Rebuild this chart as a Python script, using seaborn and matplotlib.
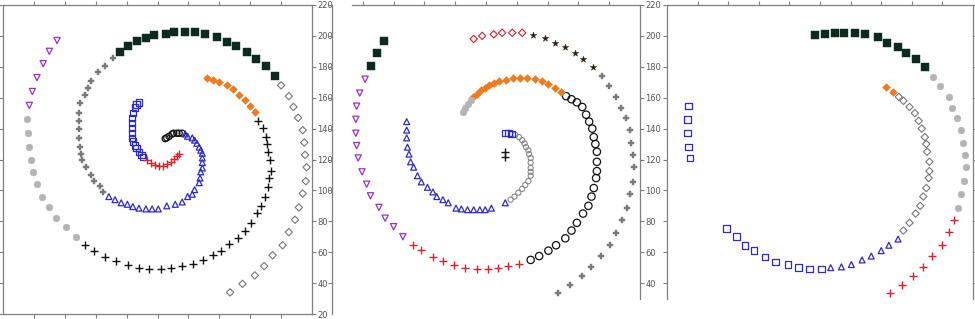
import matplotlib
matplotlib.use("Agg")
import matplotlib.pyplot as plt
import seaborn as sns
import pandas as pd

# ---- panel 1 ----
p1_violet_x = [35, 30, 26, 22, 19, 17]
p1_violet_y = [197, 190, 182, 173, 164, 155]
p1_silver_x = [15.5, 16, 17, 18, 19.5, 22, 25, 30, 34, 41, 47]
p1_silver_y = [146, 137, 128, 120, 112, 104, 96, 89, 82, 76, 70]
p1_greyplus_x = [71, 66, 61.5, 57, 55, 53, 50, 49, 49, 49, 49, 50, 50.5, 51, 54, 57, 59, 63, 65]
p1_greyplus_y = [186, 180.5, 176.5, 171, 166, 162, 156.5, 150, 145, 140, 134, 128, 123.5, 119.5, 115, 110, 106, 103, 99]
p1_square_x = [76, 81, 87, 92.5, 98, 105.5, 111, 118, 124, 131, 138.5, 145, 151, 158, 164, 170, 176]
p1_square_y = [189.5, 193.5, 196.5, 198.5, 200.5, 201, 202.5, 202.5, 202.5, 201, 199, 196, 193.5, 189.5, 185, 180.5, 174]
p1_diamond_x = [180, 185, 188, 191, 194, 195, 195.5, 196.5, 196, 194, 191.5, 189, 185, 181, 174.5, 169, 163, 155, 147]
p1_diamond_y = [168, 161, 154, 147, 139, 131, 123, 115, 106, 98, 89, 81, 73, 64.5, 58, 51, 45, 39.5, 34]
p1_plus_x = [165, 168, 170, 171, 171.5, 173, 173.5, 172, 171.5, 169.5, 167, 164.5, 160.5, 156.5, 152, 146,
             141, 136, 129.5, 123, 116, 108.5, 102, 94.5, 88, 81, 73, 66, 59, 53]
p1_plus_y = [145, 140.5, 134.5, 130, 125, 119.5, 112.5, 108, 102, 96, 90, 85.5, 79, 74, 69, 65.5,
             61, 58, 55, 52.5, 51, 50, 49, 49, 50, 52, 54.5, 57, 61, 64.5]
p1_orange_x = [132, 136, 140, 145, 149, 152.5, 156.5, 160, 163]
p1_orange_y = [173, 171.5, 170, 168, 165.5, 162, 158.5, 154.5, 151]
p1_green_x = [91, 94, 97, 100, 103.5, 107, 110, 114.5, 119, 123, 127]
p1_green_y = [160.5, 163.5, 166.5, 167.5, 169.5, 170, 171, 172, 173, 173.5, 173.5]
p1_bsquare_x = [88, 86.5, 85.5, 84, 83.5, 83.5, 83.5, 83.5, 83.5, 84, 85.5, 86.5, 88, 89.5, 90.5]
p1_bsquare_y = [157, 155.5, 153.5, 150, 147, 143.5, 140.5, 137, 134, 131.5, 129, 127.5, 125, 123, 121.5]
p1_red_x = [93, 96, 98.5, 101, 103.5, 106, 108.5, 110.5, 112.5, 114]
p1_red_y = [119.5, 118, 116.5, 116, 116, 117, 118.5, 120.5, 122.5, 123.5]
p1_ring_x = [105, 106, 107.5, 109.5, 110.5, 112.5, 114, 116]
p1_ring_y = [133.5, 134, 135, 136.5, 137, 137, 137, 137]
p1_tri_x = [118, 119.5, 122.5, 124, 125.5, 127, 128, 129, 129, 129, 129, 128, 127.5, 127, 124, 122.5, 119.5,
            116, 111.5, 106, 100.5, 96.5, 92.5, 88, 84, 80.5, 76.5, 72.5, 68.5]
p1_tri_y = [136.5, 135, 134, 132.5, 130.5, 128, 126, 124, 121, 118, 114.5, 112, 108, 105, 100.5, 97.5, 96,
            92.5, 91, 90, 88, 88, 88, 88.5, 89.5, 91, 92, 94, 96]

# ---- panel 2 ----
p2_square_x = [34, 29, 25]
p2_square_y = [196.5, 189, 180.5]
p2_violet_x = [21.5, 18, 16, 15.5, 15.5, 16, 17, 19.5, 22.5, 25, 30.5, 34.5, 40, 46]
p2_violet_y = [172, 163, 154.5, 146, 137, 129, 121, 112, 104, 96.5, 89, 82, 76.5, 70]
p2_red_x = [52.5, 58, 65.5, 72, 79.5, 86.5, 94, 101.5, 108, 114.5, 121.5]
p2_red_y = [64.5, 61.5, 57, 54.5, 52, 50, 49, 49, 50, 51, 52.5]
p2_ring_x = [129, 134.5, 140.5, 145.5, 151.5, 155.5, 159, 163, 166.5, 168.5, 170, 171.5, 172, 172, 172, 171,
             170, 169, 167, 165, 162.5, 159, 155.5, 152]
p2_ring_y = [55, 57.5, 61, 64.5, 69, 74, 79, 85, 90, 96, 101.5, 108, 112.5, 118.5, 125, 130,
             134.5, 140, 144.5, 149, 154, 157, 159, 161]
p2_orange_x = [148.5, 145, 140, 136.5, 132, 126.5, 122, 117.5, 113, 108.5, 105, 102, 99.5, 97, 94, 91.5]
p2_orange_y = [164, 166.5, 169, 170.5, 172, 173, 173, 172.5, 171.5, 170.5, 169.5, 168, 166.5, 165, 162.5, 160.5]
p2_silver_x = [90, 88.5, 86.5, 85]
p2_silver_y = [158.5, 156, 153.5, 151]
p2_green_x = [49, 50, 52.5, 55, 58, 61.5, 65.5, 70, 75, 80.5, 85.5]
p2_green_y = [150, 156, 160.5, 166, 171, 176, 180.5, 185, 189, 193, 196]
p2_rdiamond_x = [92, 97.5, 105, 110.5, 117, 123.5]
p2_rdiamond_y = [198, 200, 201, 202, 202, 202]
p2_star_x = [130.5, 138, 145, 151.5, 157.5, 163, 169.5]
p2_star_y = [200.5, 198.5, 195.5, 193, 189, 185, 180]
p2_greyplus_x = [175.5, 180, 184.5, 187.5, 191, 193.5, 194, 195.5, 196, 195.5, 193.5, 191.5, 188.5, 184.5,
                 180.5, 174.5, 168.5, 162.5, 154.5, 147]
p2_greyplus_y = [174, 167.5, 160.5, 153.5, 147, 139, 130.5, 123, 115, 105.5, 97.5, 88.5, 81, 72.5,
                 64.5, 57.5, 50.5, 44.5, 39, 33.5]
p2_tri_x = [48.5, 48.5, 48.5, 49, 50, 51, 53, 55.5, 58, 62, 65.5, 68, 72, 75.5, 80.5, 84, 88, 92, 96, 99.5,
            103.5, 112.5]
p2_tri_y = [144.5, 139, 134, 128, 123.5, 118.5, 115, 109.5, 105.5, 102, 99, 96, 94, 92, 88.5, 88, 87.5,
            87.5, 87.5, 87.5, 88.5, 92]
p2_gring_x = [119, 121.5, 123.5, 125, 126, 127.5, 128, 129, 129, 129, 129, 129, 127.5, 125.5, 123.5, 121,
              118.5, 116]
p2_gring_y = [136, 134.5, 132.5, 130.5, 128, 126, 123.5, 121, 118, 114.5, 112, 109.5, 106, 103.5, 101, 98.5,
              96, 94]
p2_bsquare_x = [112.5, 114.5, 116.5]
p2_bsquare_y = [137, 137, 136.5]
p2_plus_x = [112.5, 112.5]
p2_plus_y = [125, 121.5]

# ---- panel 3 ----
p3_square_x = [97, 103.5, 110, 116, 123, 129.5, 138, 143.5, 151, 156.5, 162.5, 168.5]
p3_square_y = [200.5, 201, 202, 202, 202, 201, 199, 195.5, 193, 189, 185, 180]
p3_silver_x = [174, 178.5, 184, 186.5, 189.5, 192, 193.5, 195, 195.5, 194, 192, 190.5]
p3_silver_y = [173.5, 167.5, 160.5, 153.5, 147, 139, 130.5, 123, 115, 106, 97.5, 88.5]
p3_red_x = [187.5, 184, 179.5, 173.5, 167.5, 161, 153.5, 145.5]
p3_red_y = [81, 73, 64.5, 57.5, 50.5, 44.5, 39, 33.5]
p3_diamond_x = [151.5, 154.5, 158.5, 162, 164.5, 166.5, 168.5, 169.5, 170, 171.5, 171.5, 171, 169.5, 167.5,
                165.5, 162.5, 158.5, 154.5]
p3_diamond_y = [160.5, 158, 154, 150, 145, 140, 134.5, 130, 125, 118.5, 112.5, 108, 101.5, 96, 90, 85, 79, 74]
p3_tri_x = [151, 145, 140, 133.5, 127.5, 120.5, 114, 107]
p3_tri_y = [68.5, 64.5, 61, 57.5, 55, 52, 50.5, 50]
p3_bsquare_x = [101, 93, 86, 79, 71, 64, 57, 51, 45.5, 39]
p3_bsquare_y = [49, 49, 50, 52, 53.5, 57, 61, 64.5, 70, 75.5]
p3_lsquare_x = [14, 13.5, 13.5, 14, 15]
p3_lsquare_y = [154.5, 146, 137, 128, 121]
p3_green_x = [139]
p3_green_y = [169]
p3_orange_x = [143, 147.5]
p3_orange_y = [167, 163.5]

y_ticks = [20, 40, 60, 80, 100, 120, 140, 160, 180, 200, 220]
x_ticks = [20, 40, 60, 80, 100, 120, 140, 160, 180]

# marker styles: marker, colour, filled, size, linewidth
styles = {
    "violet": ("v", "#9b30d0", False, 20, 0.9),
    "silver": ("o", "#b4b4b4", True, 24, 0),
    "greyplus": ("P", "#7a7a7a", True, 24, 0),
    "square": ("s", "#0c2a1e", True, 26, 0),
    "diamond": ("D", "#777777", False, 14, 0.8),
    "plus": ("+", "#111111", False, 34, 1.0),
    "orange": ("D", "#f07a1c", True, 16, 0),
    "green": ((8, 2, 0), "#1fa03c", False, 30, 1.0),
    "bsquare": ("s", "#2a2ad0", False, 22, 0.9),
    "red": ("+", "#e0202a", False, 30, 1.0),
    "ring": ("o", "#111111", False, 20, 0.9),
    "bigring": ("o", "#111111", False, 28, 0.9),
    "tri": ("^", "#2a2ad0", False, 18, 0.9),
    "rdiamond": ("D", "#e0202a", False, 14, 0.8),
    "star": ("*", "#2a1e10", True, 24, 0),
    "gring": ("o", "#888888", False, 14, 0.8),
}

panels = [
    [(p1_violet_x, p1_violet_y, "violet"), (p1_silver_x, p1_silver_y, "silver"),
     (p1_greyplus_x, p1_greyplus_y, "greyplus"), (p1_square_x, p1_square_y, "square"),
     (p1_diamond_x, p1_diamond_y, "diamond"), (p1_plus_x, p1_plus_y, "plus"),
     (p1_orange_x, p1_orange_y, "orange"), (p1_green_x, p1_green_y, "green"),
     (p1_bsquare_x, p1_bsquare_y, "bsquare"), (p1_red_x, p1_red_y, "red"),
     (p1_ring_x, p1_ring_y, "ring"), (p1_tri_x, p1_tri_y, "tri")],
    [(p2_square_x, p2_square_y, "square"), (p2_violet_x, p2_violet_y, "violet"),
     (p2_red_x, p2_red_y, "red"), (p2_ring_x, p2_ring_y, "bigring"),
     (p2_orange_x, p2_orange_y, "orange"), (p2_silver_x, p2_silver_y, "silver"),
     (p2_green_x, p2_green_y, "green"), (p2_rdiamond_x, p2_rdiamond_y, "rdiamond"),
     (p2_star_x, p2_star_y, "star"), (p2_greyplus_x, p2_greyplus_y, "greyplus"),
     (p2_tri_x, p2_tri_y, "tri"), (p2_gring_x, p2_gring_y, "gring"),
     (p2_bsquare_x, p2_bsquare_y, "bsquare"), (p2_plus_x, p2_plus_y, "plus")],
    [(p3_square_x, p3_square_y, "square"), (p3_silver_x, p3_silver_y, "silver"),
     (p3_red_x, p3_red_y, "red"), (p3_diamond_x, p3_diamond_y, "diamond"),
     (p3_tri_x, p3_tri_y, "tri"), (p3_bsquare_x, p3_bsquare_y, "bsquare"),
     (p3_lsquare_x, p3_lsquare_y, "bsquare"), (p3_green_x, p3_green_y, "green"),
     (p3_orange_x, p3_orange_y, "orange")],
]


def main():
    sns.set_style("white")
    plt.rcParams["font.family"] = ["DejaVu Sans"]
    fig = plt.figure(figsize=(9.75, 3.19), dpi=100)
    boxes = [[3 / 975, 5 / 319, 309 / 975, 309 / 319],
             [332 / 975, 5 / 319, 308 / 975, 309 / 319],
             [667 / 975, 5 / 319, 306 / 975, 309 / 319]]
    spine_col = "#7f7f7f"

    for i, (box, groups) in enumerate(zip(boxes, panels)):
        ax = fig.add_axes(box)
        for xs, ys, key in groups:
            marker, col, filled, size, lw = styles[key]
            df = pd.DataFrame({"x": xs, "y": ys})
            if filled:
                sns.scatterplot(data=df, x="x", y="y", ax=ax, marker=marker, color=col,
                                edgecolor=col, linewidth=0.3, s=size)
            elif marker == "+":
                sns.scatterplot(data=df, x="x", y="y", ax=ax, marker=marker, color=col,
                                linewidth=lw, s=size)
            else:
                sns.scatterplot(data=df, x="x", y="y", ax=ax, marker=marker, color=col,
                                facecolor="none", edgecolor=col, linewidth=lw, s=size)
        ax.set_xlim(0, 200)
        ax.set_ylim(20, 220)
        ax.set_xlabel("")
        ax.set_ylabel("")
        ax.set_xticks(x_ticks)
        ax.set_yticks(y_ticks if i == 0 else y_ticks[1:])
        for sp in ax.spines.values():
            sp.set_color(spine_col)
            sp.set_linewidth(0.9)
        ax.tick_params(axis="both", direction="out", length=3, width=0.8, color=spine_col,
                       labelsize=6, labelcolor="#555555", pad=1)
        ax.tick_params(axis="x", top=True, bottom=(i == 0), labeltop=False, labelbottom=False)
        # the last panel's right labels fall outside the picture
        ax.tick_params(axis="y", left=True, right=True, labelleft=False, labelright=(i < 2))
        if i > 0:
            ax.spines["bottom"].set_visible(False)
            ax.spines["right"].set_bounds(30, 220)
        if i == 1:
            ax.spines["top"].set_bounds(13, 200)
        if i == 2:
            ax.spines["left"].set_bounds(30, 220)

    fig.savefig("out.png", dpi=100)


if __name__ == "__main__":
    main()
